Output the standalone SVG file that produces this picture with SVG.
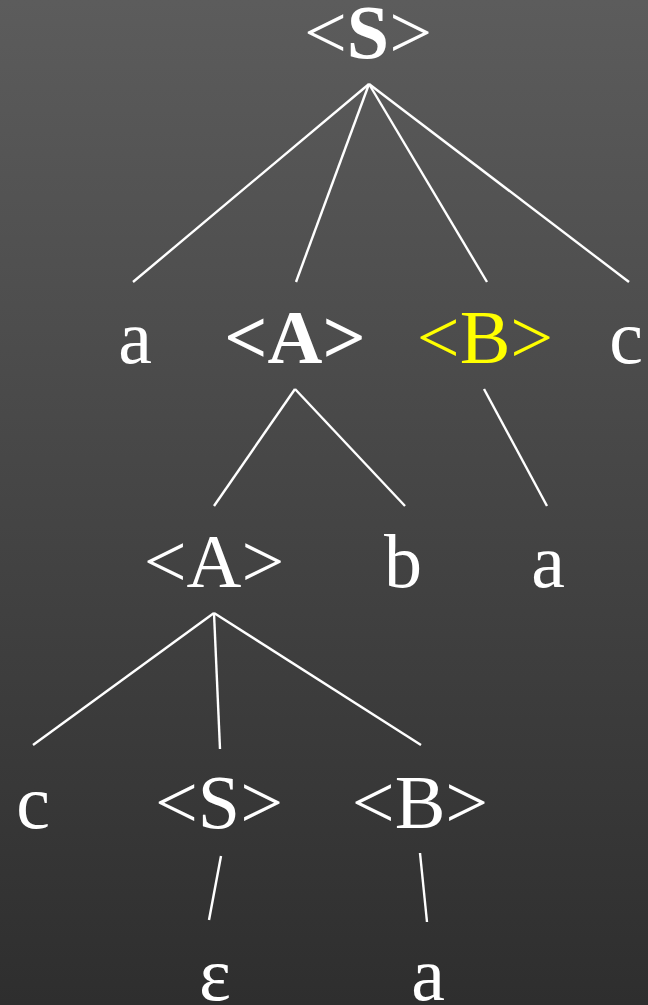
<svg xmlns="http://www.w3.org/2000/svg" width="648" height="1005" viewBox="0 0 648 1005">
<defs>
<linearGradient id="bg" x1="0" y1="0" x2="0" y2="1">
<stop offset="0" stop-color="#5c5c5c"/>
<stop offset="1" stop-color="#2e2e2e"/>
</linearGradient>
<style>
text{font-family:"Liberation Serif","Times New Roman",serif;font-size:76px;fill:#ffffff;text-anchor:middle}
.b{font-weight:bold}
.y{fill:#ffff00}
.edge{stroke:#ffffff;stroke-width:2.4;stroke-linecap:butt}
</style>
</defs>
<rect x="0" y="0" width="648" height="1005" fill="url(#bg)"/>
<g id="connectors">
<line class="edge" x1="369" y1="84" x2="133" y2="282"/>
<line class="edge" x1="369" y1="84" x2="296" y2="282"/>
<line class="edge" x1="369" y1="84" x2="487" y2="282"/>
<line class="edge" x1="369" y1="84" x2="629" y2="282"/>
<line class="edge" x1="295" y1="389" x2="214" y2="506"/>
<line class="edge" x1="295" y1="389" x2="405" y2="506"/>
<line class="edge" x1="484" y1="389" x2="547" y2="506"/>
<line class="edge" x1="214" y1="613" x2="33" y2="745"/>
<line class="edge" x1="214" y1="613" x2="220" y2="749"/>
<line class="edge" x1="214" y1="613" x2="421" y2="745"/>
<line class="edge" x1="221" y1="856" x2="209" y2="920"/>
<line class="edge" x1="420" y1="853" x2="427" y2="922"/>
</g>
<g id="n-S-root"><text x="368" y="58">&lt;<tspan class="b">S</tspan>&gt;</text></g>
<g id="n-a1"><text x="135" y="363">a</text></g>
<g id="n-A1"><text class="b" x="295" y="363">&lt;A&gt;</text></g>
<g id="n-B1"><text class="y" x="485" y="363">&lt;B&gt;</text></g>
<g id="n-c1"><text x="626" y="363">c</text></g>
<g id="n-A2"><text x="214" y="587">&lt;A&gt;</text></g>
<g id="n-b"><text x="403" y="587">b</text></g>
<g id="n-a2"><text x="548" y="587">a</text></g>
<g id="n-c2"><text x="33" y="828">c</text></g>
<g id="n-S2"><text x="219" y="828">&lt;S&gt;</text></g>
<g id="n-B2"><text x="420" y="828">&lt;B&gt;</text></g>
<g id="n-eps"><text x="215" y="1000">ε</text></g>
<g id="n-a3"><text x="428" y="1000">a</text></g>
</svg>
